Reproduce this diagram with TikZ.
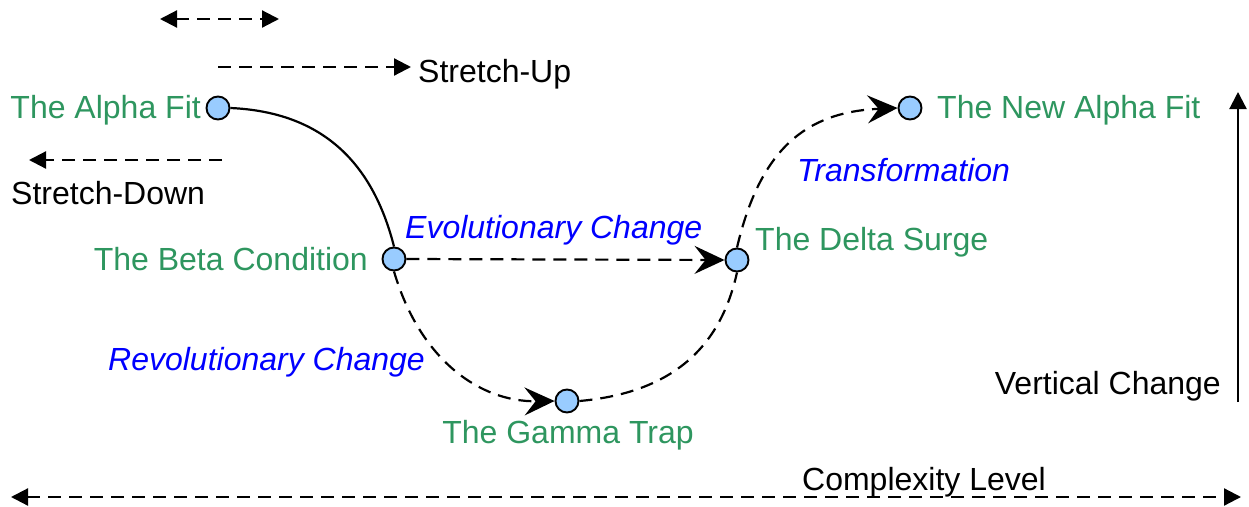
\documentclass[tikz,border=0pt]{standalone}
\usepackage{fontspec}
\setmainfont{Liberation Sans}
\usetikzlibrary{arrows.meta}
\definecolor{lblgreen}{RGB}{46,150,95}
\definecolor{lblblue}{RGB}{0,0,255}
\definecolor{dotfill}{RGB}{153,204,255}
\tikzset{
  dot/.style={circle,draw=black,line width=1.9pt,fill=dotfill,minimum size=23pt,inner sep=0pt},
  stage/.style={text=lblgreen,font=\fontsize{32}{38}\selectfont,inner sep=0pt},
  change/.style={text=lblblue,font=\fontsize{32}{38}\selectfont\itshape,inner sep=0pt},
  plain/.style={text=black,font=\fontsize{32}{38}\selectfont,inner sep=0pt},
  dsh/.style={line width=2.2pt,dash pattern=on 13pt off 8pt},
  bigtip/.style={-{Stealth[length=30pt,width=28pt,inset=11pt]}},
  smalltip/.style={-{Triangle[length=17pt,width=17pt]}},
  bothtip/.style={{Triangle[length=17pt,width=17pt]}-{Triangle[length=17pt,width=17pt]}}
}
\begin{document}
\begin{tikzpicture}[x=1pt,y=-1pt]
\useasboundingbox (0,0) rectangle (1249,506);
% stage dots
\node[dot] (alpha) at (218,108) {};
\node[dot] (beta) at (394,259) {};
\node[dot] (delta) at (737,260) {};
\node[dot] (gamma) at (567,401) {};
\node[dot] (newalpha) at (910,108) {};
% stage labels
\node[stage,anchor=east] (alphaT) at (201,110) {The Alpha Fit};
\node[stage,anchor=east] (betaT) at (368,259) {The Beta Condition};
\node[stage,anchor=west] (deltaT) at (755,242) {The Delta Surge};
\node[stage] (gammaT) at (568,435) {The Gamma Trap};
\node[stage,anchor=west] (newalphaT) at (937,110) {The New Alpha Fit};
% change labels
\node[change,anchor=west] (evo) at (405,230) {Evolutionary Change};
\node[change,anchor=west] (revo) at (108,362) {Revolutionary Change};
\node[change,anchor=west] (trans) at (797,170) {Transformation};
% connectors
\draw[line width=2.2pt] (alpha.east) .. controls (320,112) and (372,160) .. (beta.north);
\draw[dsh,bigtip] (beta.east) -- (delta.west);
\draw[dsh,bigtip] (beta.south) .. controls (420,360) and (480,402) .. (gamma.west);
\draw[dsh] (gamma.east) .. controls (680,392) and (722,340) .. (delta.south);
\draw[dsh,bigtip] (delta.north) .. controls (760,150) and (805,112) .. (newalpha.west);
% stretch arrows
\coordinate (topL) at (160,19);
\coordinate (topR) at (279,19);
\draw[dsh,bothtip] (topL) -- (topR);
\coordinate (upS) at (218,67);
\coordinate (upE) at (411,67);
\draw[dsh,smalltip] (upS) -- (upE);
\node[plain,anchor=west] (upT) at (418,74) {Stretch-Up};
\coordinate (dnS) at (222,160);
\coordinate (dnE) at (29,160);
\draw[dsh,smalltip] (dnS) -- (dnE);
\node[plain,anchor=west] (dnT) at (11,193) {Stretch-Down};
% vertical change
\coordinate (vS) at (1238,402);
\coordinate (vE) at (1238,92);
\draw[line width=2.2pt,smalltip] (vS) -- (vE);
\node[plain,anchor=east] (vT) at (1221,386) {Vertical Change};
% complexity
\coordinate (cL) at (11,497);
\coordinate (cR) at (1241,497);
\draw[dsh,bothtip] (cL) -- (cR);
\node[plain] (cT) at (924,482) {Complexity Level};
\end{tikzpicture}
\end{document}
